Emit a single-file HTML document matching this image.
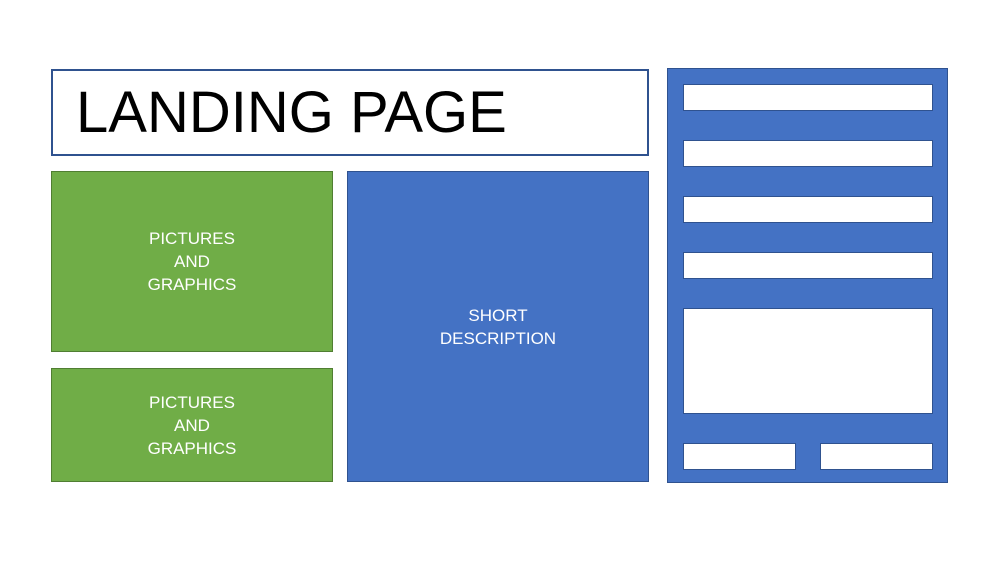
<!DOCTYPE html>
<html><head><style>
body{margin:0;width:999px;height:562px;background:#fff;position:relative;overflow:hidden;font-family:"Segoe UI","Liberation Sans",sans-serif}
div{position:absolute;box-sizing:border-box}
.g{background:#70ad47;border:1px solid #507e32;color:#fff;font-size:17px;display:flex;align-items:center;justify-content:center;text-align:center;line-height:23px}
.b{background:#4472c4;border:1px solid #2f528f}
.w{background:#fff;border:1px solid #2f528f}
</style></head><body>
<div style="left:51px;top:69px;width:598px;height:87px;border:2px solid #2f528f;background:#fff"></div>
<div style="left:76px;top:77px;font-size:58px;line-height:72px;color:#000">LANDING PAGE</div>
<div class="g" style="left:51px;top:171px;width:282px;height:181px">PICTURES<br>AND<br>GRAPHICS</div>
<div class="g" style="left:51px;top:368px;width:282px;height:114px">PICTURES<br>AND<br>GRAPHICS</div>
<div class="b" style="left:347px;top:171px;width:302px;height:311px;color:#fff;font-size:17px;display:flex;align-items:center;justify-content:center;text-align:center;line-height:23px">SHORT<br>DESCRIPTION</div>
<div class="b" style="left:667px;top:68px;width:281px;height:415px"></div>
<div class="w" style="left:683px;top:84px;width:250px;height:27px"></div>
<div class="w" style="left:683px;top:140px;width:250px;height:27px"></div>
<div class="w" style="left:683px;top:196px;width:250px;height:27px"></div>
<div class="w" style="left:683px;top:252px;width:250px;height:27px"></div>
<div class="w" style="left:683px;top:308px;width:250px;height:106px"></div>
<div class="w" style="left:683px;top:443px;width:113px;height:27px"></div>
<div class="w" style="left:820px;top:443px;width:113px;height:27px"></div>
</body></html>
